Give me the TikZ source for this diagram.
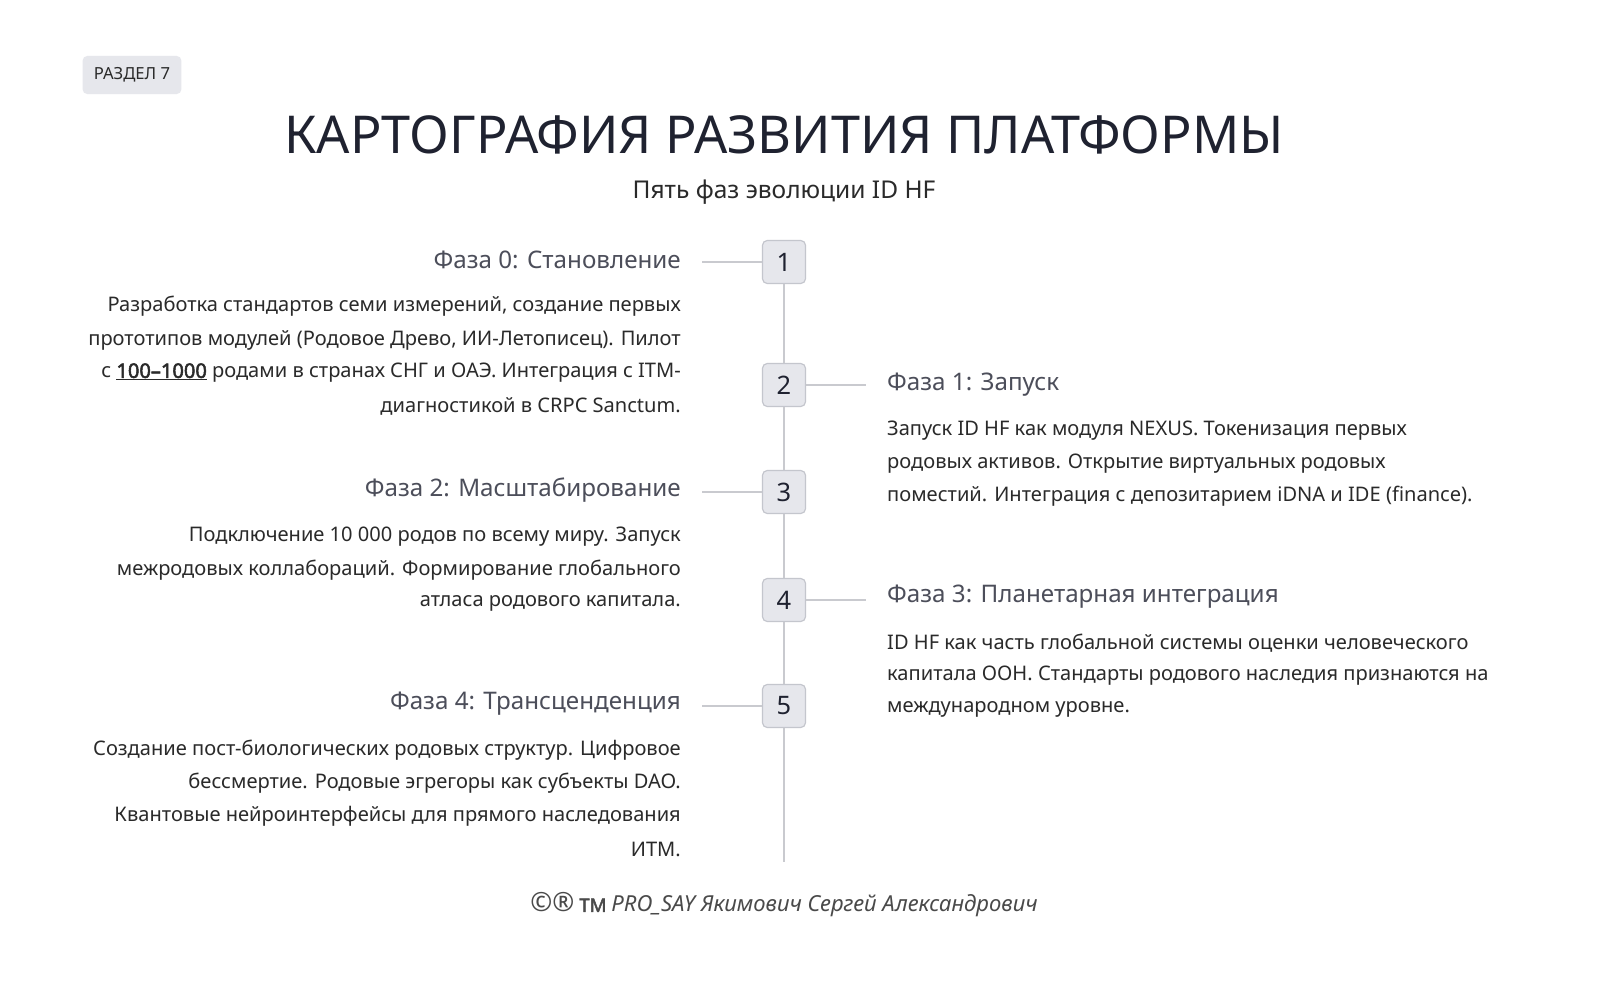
\documentclass[tikz,border=0pt]{standalone}
\usepackage{fontspec}
\setmainfont{Noto Sans}
\newfontfamily\fbold{Noto Sans}[FakeBold=2.5]
\definecolor{ink}{HTML}{1F2230}
\definecolor{txt}{HTML}{2A2A2A}
\definecolor{ln}{HTML}{C9CACF}
\definecolor{boxf}{HTML}{E6E7EC}
\definecolor{boxd}{HTML}{C4C6CD}
\tikzset{
 body/.style={font=\fontsize{20.5}{24}\selectfont, text=txt, inner sep=0},
 bl/.style={body, anchor=east},
 br/.style={body, anchor=west},
 head/.style={font=\fontsize{24.7}{30}\selectfont, text=ink!80, inner sep=0},
 numbox/.style={draw=boxd, fill=boxf, rounded corners=5pt, minimum width=44pt, minimum height=44pt, line width=1.2pt, font=\fontsize{26}{30}\selectfont, text=ink},
 conn/.style={draw=ln, line width=2pt}
}
\begin{document}
\begin{tikzpicture}[x=1.021pt,y=-1.021pt]
\useasboundingbox (0,0) rectangle (1600,998);
\fill[white] (0,0) rectangle (1600,998);
\node[fill=boxf, rounded corners=5pt, minimum width=101pt, minimum height=39pt, font=\fontsize{17}{20}\selectfont, text=txt] (badge) at (132,75) {РАЗДЕЛ 7};
\node[font=\fontsize{53.3}{60}\selectfont, text=ink] (title) at (784,135) {КАРТОГРАФИЯ РАЗВИТИЯ ПЛАТФОРМЫ};
\node[font=\fontsize{25}{30}\selectfont, text=txt] (sub) at (784,192) {Пять фаз эволюции ID HF};
\coordinate (tend) at (784,862);
\node[numbox] (n1) at (784,262) {1};
\node[numbox] (n2) at (784,385) {2};
\node[numbox] (n3) at (784,492) {3};
\node[numbox] (n4) at (784,600) {4};
\node[numbox] (n5) at (784,706) {5};
\path[conn] (n1.south) -- (n2.north);
\path[conn] (n2.south) -- (n3.north);
\path[conn] (n3.south) -- (n4.north);
\path[conn] (n4.south) -- (n5.north);
\path[conn] (n5.south) -- (tend);
\coordinate (c1) at (702,262); \path[conn] (c1) -- (n1.west);
\coordinate (c2) at (866,385); \path[conn] (n2.east) -- (c2);
\coordinate (c3) at (702,492); \path[conn] (c3) -- (n3.west);
\coordinate (c4) at (866,600); \path[conn] (n4.east) -- (c4);
\coordinate (c5) at (702,706); \path[conn] (c5) -- (n5.west);
\node[head, anchor=east] (h0) at (681,260) {Фаза 0: Становление};
\node[bl] (a1) at (681,306) {Разработка стандартов семи измерений, создание первых};
\node[bl] (a2) at (681,340) {прототипов модулей (Родовое Древо, ИИ-Летописец). Пилот};
\node[bl] (a3) at (681,373) {с \underline{\fbold 100–1000} родами в странах СНГ и ОАЭ. Интеграция с ITM-};
\node[bl] (a4) at (681,406) {диагностикой в CRPC Sanctum.};
\node[head, anchor=east] (h2) at (681,490) {Фаза 2: Масштабирование};
\node[bl] (b1) at (681,537) {Подключение 10 000 родов по всему миру. Запуск};
\node[bl] (b2) at (681,570) {межродовых коллабораций. Формирование глобального};
\node[bl] (b3) at (681,603) {атласа родового капитала.};
\node[head, anchor=east] (h4) at (681,704) {Фаза 4: Трансценденция};
\node[bl] (d1) at (681,750) {Создание пост-биологических родовых структур. Цифровое};
\node[bl] (d2) at (681,783) {бессмертие. Родовые эгрегоры как субъекты DAO.};
\node[bl] (d3) at (681,816) {Квантовые нейроинтерфейсы для прямого наследования};
\node[bl] (d4) at (681,849) {ИТМ.};
\node[head, anchor=west] (h1) at (887,385) {Фаза 1: Запуск};
\node[br] (e1) at (887,431) {Запуск ID HF как модуля NEXUS. Токенизация первых};
\node[br] (e2) at (887,464) {родовых активов. Открытие виртуальных родовых};
\node[br] (e3) at (887,496) {поместий. Интеграция с депозитарием iDNA и IDE (finance).};
\node[head, anchor=west] (h3) at (887,597) {Фаза 3: Планетарная интеграция};
\node[br] (f1) at (887,643) {ID HF как часть глобальной системы оценки человеческого};
\node[br] (f2) at (887,676) {капитала ООН. Стандарты родового наследия признаются на};
\node[br] (f3) at (887,709) {международном уровне.};
\node[text=txt!85] (foot) at (784,905) {\fontsize{27}{27}\selectfont ©®\fontsize{19}{22}\selectfont\ {\fbold TM} \fontsize{22.5}{26}\selectfont\itshape PRO\_SAY Якимович Сергей Александрович};
\end{tikzpicture}
\end{document}
